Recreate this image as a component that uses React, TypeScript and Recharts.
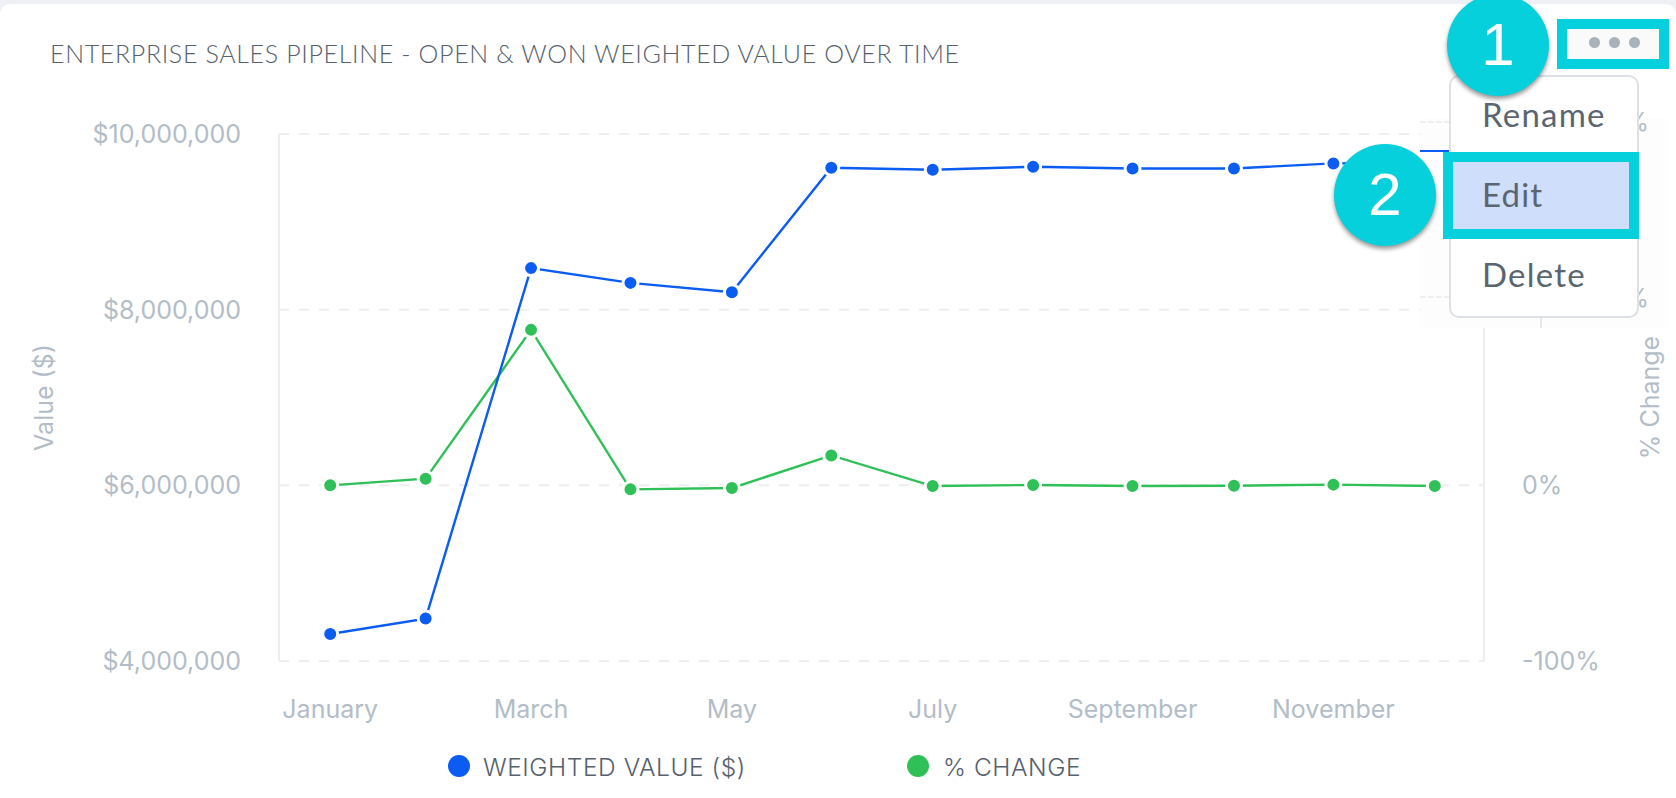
import React from 'react';
import { LineChart, Line, XAxis, YAxis, CartesianGrid, Legend } from 'recharts';

const months = ['January', 'February', 'March', 'April', 'May', 'June', 'July', 'August', 'September', 'October', 'November', 'December'];
// the months are not evenly spaced in the picture (February sits a bit early)
const monthPositions = [0.01, 0.96, 2.01, 3.0, 4.01, 5.0, 6.01, 7.01, 8.0, 9.01, 10.0, 11.01];
const weightedValue = [4308000, 4483000, 8473000, 8305000, 8199000, 9616000, 9593000, 9627000, 9608000, 9608000, 9665000, 9670000];
const percentChange = [0, 3.8, 88.5, -2.3, -1.5, 17, -0.4, 0.2, -0.4, -0.2, 0.4, -0.4];
const valueTicks = [4000000, 6000000, 8000000, 10000000];
// the upper two labels are hidden by the menu, only their % signs show in the patch
const changeTicks = [-100, 0];
const monthTicks = monthPositions.filter((_, i) => i % 2 === 0);

const chartData = months.map((month, i) => ({
  month,
  pos: monthPositions[i],
  value: weightedValue[i],
  change: percentChange[i],
}));

const FONT = 'Inter, sans-serif';
const TITLE_FONT = 'Lato, sans-serif';
const BLUE = '#0a5cf2';
const GREEN = '#2fc058';
const TEAL = '#05d0dc';
const MUTED = '#b3bdc7';
const DARK = '#56616d';

const tickStyle = { fontFamily: FONT, fontSize: 25, fontWeight: 400, fill: MUTED };

const legendItems = [
  { name: 'WEIGHTED VALUE ($)', color: BLUE, dot: 459, text: 483 },
  { name: '% CHANGE', color: GREEN, dot: 918, text: 943 },
];

const ChartLegend = () => (
  <div style={{ position: 'relative', width: 1676, height: 36 }}>
    {legendItems.map((item) => (
      <React.Fragment key={item.name}>
        <span style={{ position: 'absolute', left: item.dot - 11, top: 7, width: 22, height: 22, borderRadius: 11, background: item.color }} />
        <span style={{ position: 'absolute', left: item.text, top: 3, fontFamily: FONT, fontWeight: 300, fontSize: 24.5, lineHeight: '32px', letterSpacing: 0.55, color: DARK, whiteSpace: 'nowrap' }}>{item.name}</span>
      </React.Fragment>
    ))}
  </div>
);

const Badge = ({ x, y, label }: { x: number; y: number; label: string }) => (
  <div style={{ position: 'absolute', left: x - 51, top: y - 51, width: 102, height: 102, borderRadius: 51, background: TEAL, boxShadow: '0 3px 4px rgba(0,0,0,0.4)', color: '#fff', fontFamily: 'Liberation Sans, sans-serif', fontSize: 60, lineHeight: '102px', textAlign: 'center' }}>{label}</div>
);

const box = (left: number, top: number, width: number, height: number): React.CSSProperties => ({ position: 'absolute', left, top, width, height, boxSizing: 'border-box' });

const menuText: React.CSSProperties = { position: 'absolute', left: 1482, fontFamily: TITLE_FONT, fontSize: 33, lineHeight: '40px', letterSpacing: 1.2, color: '#5a6572' };

const patchLabel: React.CSSProperties = { position: 'absolute', right: 1676 - 1649, fontFamily: FONT, fontSize: 25, lineHeight: '32px', color: MUTED };

// pasted-in patch behind the menu: the screenshot shows it offset from the chart beneath
const MenuPatch = () => (
  <>
    <div style={{ ...box(1420, 118, 248, 210), background: '#fdfdfd' }} />
    <div style={{ ...box(1420, 121, 30, 2), borderTop: '2px dashed #eeeeee' }} />
    <div style={{ ...box(1420, 296, 30, 2), borderTop: '2px dashed #eeeeee' }} />
    <div style={{ ...box(1420, 150, 30, 2), background: BLUE }} />
    <div style={{ ...box(1540, 316, 2, 12), background: '#e6e8ea' }} />
    <div style={{ ...patchLabel, top: 106 }}>%</div>
    <div style={{ ...patchLabel, top: 282 }}>%</div>
  </>
);

const App = () => {
  return (
    <div style={{ position: 'absolute', left: 0, top: 0, width: 1676, height: 798, background: '#eef0f6', overflow: 'hidden' }}>
      <div style={{ ...box(0, 4, 1676, 794), background: '#fff', borderRadius: '10px 10px 0 0' }} />
      <div style={{ position: 'absolute', left: 50, top: 36, fontFamily: TITLE_FONT, fontWeight: 300, fontSize: 25, lineHeight: '34px', letterSpacing: 0.65, color: '#56616d', whiteSpace: 'nowrap' }}>
        ENTERPRISE SALES PIPELINE - OPEN &amp; WON WEIGHTED VALUE OVER TIME
      </div>
      <div style={{ position: 'absolute', left: 0, top: 0 }}>
        <LineChart width={1676} height={798} data={chartData} margin={{ top: 134, right: 0, bottom: 41, left: 0 }}>
          <CartesianGrid horizontal vertical={false} yAxisId="value" stroke="#eeeeee" strokeWidth={2} strokeDasharray="10 10" />
          <XAxis dataKey="pos" type="number" domain={[-0.5, 11.5]} ticks={monthTicks} interval={0} height={60} axisLine={false} tickLine={false} tickSize={0} tickMargin={39} tick={tickStyle} tickFormatter={(v: number) => months[monthPositions.indexOf(v)]} />
          <YAxis yAxisId="value" orientation="left" width={279} domain={[4000000, 10000000]} ticks={valueTicks} interval={0} axisLine={{ stroke: '#eceef0', strokeWidth: 2 }} tickLine={false} tickSize={0} tickMargin={38} tick={tickStyle} tickFormatter={(v: number) => '$' + v.toLocaleString('en-US')}
            label={{ value: 'Value ($)', angle: -90, position: 'insideLeft', offset: 44, style: { ...tickStyle, textAnchor: 'middle' } }} />
          <YAxis yAxisId="change" orientation="right" width={192} domain={[-100, 200]} ticks={changeTicks} interval={0} axisLine={{ stroke: '#eceef0', strokeWidth: 2 }} tickLine={false} tickSize={0} tickMargin={38} tick={tickStyle} tickFormatter={(v: number) => v + '%'}
            label={{ value: '% Change', angle: -90, position: 'insideRight', offset: 26, style: { ...tickStyle, textAnchor: 'middle' } }} />
          <Legend verticalAlign="bottom" wrapperStyle={{ left: 0, top: 748, width: 1676, height: 36 }} content={() => <ChartLegend />} />
          <Line yAxisId="change" dataKey="change" name="% CHANGE" stroke={GREEN} strokeWidth={2.4} dot={{ r: 7.5, fill: GREEN, stroke: '#fff', strokeWidth: 3 }} isAnimationActive={false} />
          <Line yAxisId="value" dataKey="value" name="WEIGHTED VALUE ($)" stroke={BLUE} strokeWidth={2.4} dot={{ r: 7.5, fill: BLUE, stroke: '#fff', strokeWidth: 3 }} isAnimationActive={false} />
        </LineChart>
      </div>

      <MenuPatch />
      <div style={{ ...box(1449, 75, 190, 243), background: '#fff', border: '2px solid #dde1e5', borderRadius: 10 }} />
      <div style={{ ...menuText, top: 94 }}>Rename</div>
      <div style={{ ...box(1443, 152, 196, 87), background: '#cfdefb', border: `10px solid ${TEAL}` }} />
      <div style={{ ...menuText, top: 174 }}>Edit</div>
      <div style={{ ...menuText, top: 254 }}>Delete</div>

      <div style={{ ...box(1557, 19, 112, 50), background: '#fafafa', border: `10px solid ${TEAL}` }} />
      {[1594, 1614, 1634].map((x) => (
        <div key={x} style={{ ...box(x - 5.5, 37, 11, 11), borderRadius: 6, background: '#a8b2ba' }} />
      ))}
      <Badge x={1385} y={195} label="2" />
      <Badge x={1498} y={45} label="1" />
    </div>
  );
};

export default App;
